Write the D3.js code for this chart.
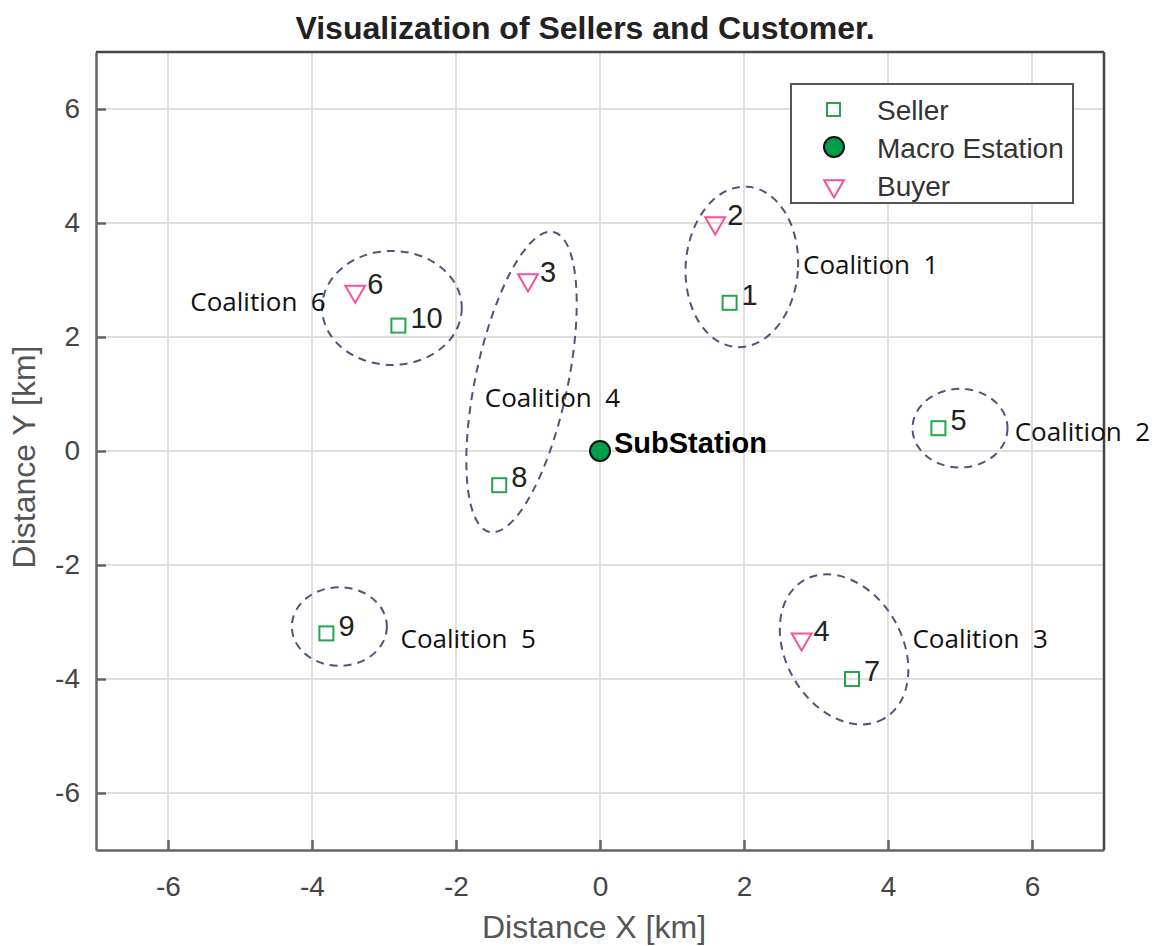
<!DOCTYPE html>
<html lang="en">
<head>
<meta charset="UTF-8" />
<title>Visualization of Sellers and Customer.</title>
<style>
  body { margin: 0; background: #fff; }
  text { font-family: "Liberation Sans", Arial, sans-serif; }
  .tick text { fill: #444; font-size: 28px; }
  .coal { font-family: "Open Sans", sans-serif; font-size: 26px; fill: #111; white-space: pre; }
  .num { font-family: "Liberation Sans", Arial, sans-serif; font-size: 29px; fill: #222; }
</style>
</head>
<body>
<svg width="1161" height="946"></svg>
<script src="https://d3js.org/d3.v7.min.js"></script>
<script>
// sellers: id, x, y
var sellerIds = [1, 5, 7, 8, 9, 10];
var sellerX   = [1.8, 4.7, 3.5, -1.4, -3.8, -2.8];
var sellerY   = [2.6, 0.4, -4.0, -0.6, -3.2, 2.2];

// buyers
var buyerIds = [2, 3, 4, 6];
var buyerX   = [1.6, -1.0, 2.8, -3.4];
var buyerY   = [4.0, 3.0, -3.3, 2.8];

// macro station
var stationX = [0], stationY = [0], stationName = ["SubStation"];

// coalitions (dashed ellipses): centre, radii in data units, tilt
var coalNames = ["Coalition  1", "Coalition  2", "Coalition  3", "Coalition  4", "Coalition  5", "Coalition  6"];
var coalCx    = [1.97, 5.0, 3.39, -1.09, -3.62, -2.89];
var coalCy    = [3.23, 0.4, -3.48, 1.21, -3.08, 2.51];
var coalRx    = [0.78, 0.66, 1.11, 0.64, 0.66, 0.97];
var coalRy    = [1.41, 0.69, 1.02, 2.69, 0.69, 1.0];
var coalTilt  = [4, 0, 60, 12, 0, 0];
var coalLabelX = [2.82, 5.76, 4.34, -1.6, -2.77, -5.69];
var coalLabelY = [3.27, 0.33, -3.29, 0.93, -3.29, 2.62];

var ticks = [-6, -4, -2, 0, 2, 4, 6];

var svg = d3.select("svg"),
    margin = {top: 52, right: 57, bottom: 96, left: 96},
    width = +svg.attr("width") - margin.left - margin.right,
    height = +svg.attr("height") - margin.top - margin.bottom;

var x = d3.scaleLinear().domain([-7, 7]).range([0, width]);
var y = d3.scaleLinear().domain([-7, 7]).range([height, 0]);

var g = svg.append("g")
    .attr("transform", "translate(" + margin.left + "," + margin.top + ")");

// grid
g.selectAll(".gx").data(ticks).enter().append("line")
    .attr("x1", d => x(d)).attr("x2", d => x(d))
    .attr("y1", 0).attr("y2", height)
    .attr("stroke", "#e2dede").attr("stroke-width", 2);
g.selectAll(".gy").data(ticks).enter().append("line")
    .attr("y1", d => y(d)).attr("y2", d => y(d))
    .attr("x1", 0).attr("x2", width)
    .attr("stroke", "#e2dede").attr("stroke-width", 2);

// axes with inward ticks
var fmt = d => String(d);
var xAxis = g.append("g")
    .attr("transform", "translate(0," + height + ")")
    .call(d3.axisBottom(x).tickValues(ticks).tickFormat(fmt).tickSizeInner(-10).tickSizeOuter(0).tickPadding(26));
var yAxis = g.append("g")
    .call(d3.axisLeft(y).tickValues(ticks).tickFormat(fmt).tickSizeInner(-10).tickSizeOuter(0).tickPadding(16));
[xAxis, yAxis].forEach(function(a) {
  a.select(".domain").attr("stroke", "#6b6464").attr("stroke-width", 2.5);
  a.selectAll(".tick line").attr("stroke", "#6b6464").attr("stroke-width", 2.5);
});

// box top / right
g.append("line").attr("x1", 0).attr("x2", width).attr("y1", 0).attr("y2", 0)
    .attr("stroke", "#4a4444").attr("stroke-width", 2.5);
g.append("line").attr("x1", width).attr("x2", width).attr("y1", 0).attr("y2", height)
    .attr("stroke", "#4a4444").attr("stroke-width", 2.5);

// coalition ellipses
var coal = coalNames.map((n, i) => ({name: n, cx: coalCx[i], cy: coalCy[i], rx: coalRx[i], ry: coalRy[i],
                                     tilt: coalTilt[i], lx: coalLabelX[i], ly: coalLabelY[i]}));
g.selectAll(".coalition").data(coal).enter().append("ellipse")
    .attr("transform", d => "translate(" + x(d.cx) + "," + y(d.cy) + ") rotate(" + d.tilt + ")")
    .attr("rx", d => x(d.rx) - x(0))
    .attr("ry", d => y(0) - y(d.ry))
    .attr("fill", "none")
    .attr("stroke", "#4f5675")
    .attr("stroke-width", 2)
    .attr("stroke-dasharray", "8,6");
g.selectAll(".coal").data(coal).enter().append("text")
    .attr("class", "coal")
    .attr("x", d => x(d.lx)).attr("y", d => y(d.ly))
    .attr("dy", "0.35em")
    .text(d => d.name);

// sellers
var sellers = sellerIds.map((id, i) => ({id: id, x: sellerX[i], y: sellerY[i]}));
g.selectAll(".seller").data(sellers).enter().append("rect")
    .attr("x", d => x(d.x) - 7).attr("y", d => y(d.y) - 7)
    .attr("width", 14).attr("height", 14)
    .attr("fill", "none").attr("stroke", "#21a84f").attr("stroke-width", 2);

// buyers
var buyers = buyerIds.map((id, i) => ({id: id, x: buyerX[i], y: buyerY[i]}));
var tri = d3.symbol().type(d3.symbolTriangle).size(170);
g.selectAll(".buyer").data(buyers).enter().append("path")
    .attr("d", tri)
    .attr("transform", d => "translate(" + x(d.x) + "," + y(d.y) + ") rotate(180)")
    .attr("fill", "none").attr("stroke", "#f2529e").attr("stroke-width", 2);

// point numbers
g.selectAll(".num").data(sellers.concat(buyers)).enter().append("text")
    .attr("class", "num")
    .attr("x", d => x(d.x) + 12).attr("y", d => y(d.y) - 8)
    .attr("dy", "0.35em")
    .text(d => d.id);

// macro station
g.selectAll(".station").data(stationX).enter().append("circle")
    .attr("cx", d => x(d)).attr("cy", (d, i) => y(stationY[i]))
    .attr("r", 10)
    .attr("fill", "#00a04a").attr("stroke", "#111").attr("stroke-width", 2);
g.selectAll(".stlabel").data(stationName).enter().append("text")
    .attr("x", (d, i) => x(stationX[i]) + 14).attr("y", (d, i) => y(stationY[i]) - 8)
    .attr("dy", "0.35em")
    .style("font-size", "29px").style("fill", "#000").style("font-weight", "bold")
    .text(d => d);

// legend
var lg = g.append("g").attr("transform", "translate(" + (width - 313) + ",32)");
lg.append("rect").attr("width", 282).attr("height", 119)
    .attr("fill", "#fff").attr("stroke", "#555").attr("stroke-width", 2);
lg.append("rect").attr("x", 36).attr("y", 19).attr("width", 13).attr("height", 13)
    .attr("fill", "none").attr("stroke", "#21a84f").attr("stroke-width", 2);
lg.append("circle").attr("cx", 43).attr("cy", 63).attr("r", 10)
    .attr("fill", "#00a04a").attr("stroke", "#111").attr("stroke-width", 2);
lg.append("path").attr("d", tri).attr("transform", "translate(43,102) rotate(180)")
    .attr("fill", "none").attr("stroke", "#f2529e").attr("stroke-width", 2);
var legendLabels = ["Seller", "Macro Estation", "Buyer"];
lg.selectAll(".lt").data(legendLabels).enter().append("text")
    .attr("x", 86).attr("y", (d, i) => 26 + i * 38)
    .attr("dy", "0.35em")
    .style("font-size", "28px").style("fill", "#333")
    .text(d => d);

// titles
svg.append("text")
    .attr("x", 585).attr("y", 39)
    .style("text-anchor", "middle").style("font-weight", "bold").style("font-size", "32px").style("fill", "#222")
    .text("Visualization of Sellers and Customer.");
svg.append("text")
    .attr("x", margin.left + width / 2 - 6).attr("y", 938)
    .style("text-anchor", "middle").style("font-size", "32px").style("fill", "#555")
    .text("Distance X [km]");
svg.append("text")
    .attr("transform", "translate(35," + (margin.top + height / 2 + 6) + ") rotate(-90)")
    .style("text-anchor", "middle").style("font-size", "32px").style("fill", "#555")
    .text("Distance Y [km]");
</script>
</body>
</html>
